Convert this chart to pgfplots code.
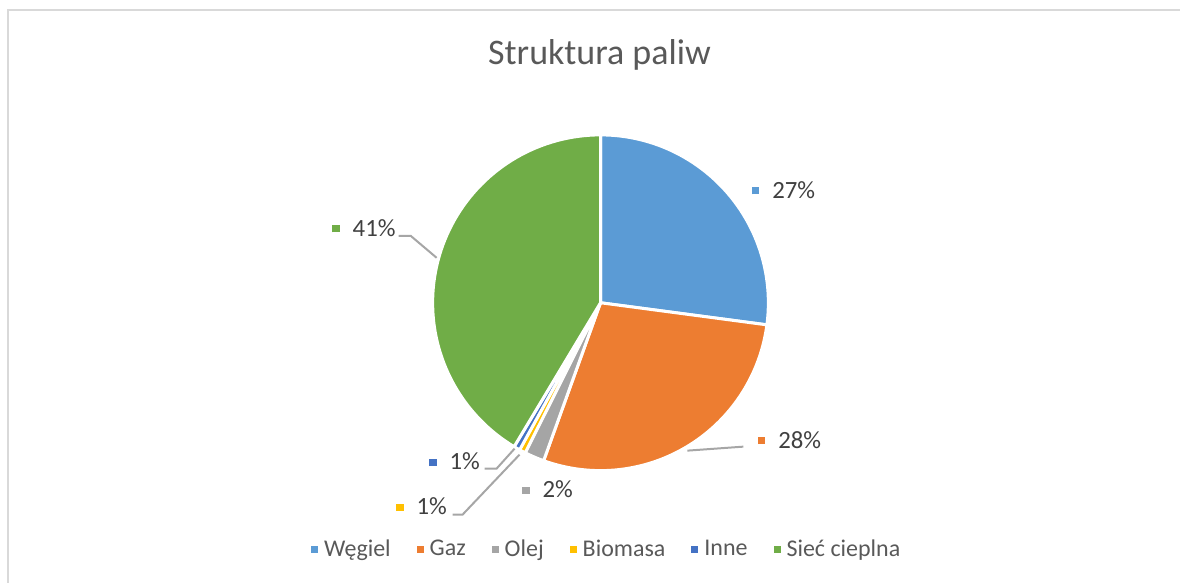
\documentclass[border=0pt]{standalone}
\usepackage{fontspec}
\setmainfont{Carlito}
\usepackage{pgfplots}
\pgfplotsset{compat=1.18}

\definecolor{cWegiel}{HTML}{5B9BD5}
\definecolor{cGaz}{HTML}{ED7D31}
\definecolor{cOlej}{HTML}{A5A5A5}
\definecolor{cBio}{HTML}{FFC000}
\definecolor{cInne}{HTML}{4472C4}
\definecolor{cSiec}{HTML}{70AD47}
\definecolor{txt}{HTML}{595959}
\definecolor{lbl}{HTML}{404040}
\definecolor{lead}{HTML}{A6A6A6}
\definecolor{frame}{HTML}{D9D9D9}

% shares in percent
\def\pWegiel{27.1}
\def\pGaz{28.4}
\def\pOlej{1.9}
\def\pBio{0.6}
\def\pInne{0.6}
\def\pSiec{41.4}

% slice boundaries, clockwise from 12 o'clock
\pgfmathsetmacro{\aA}{90}
\pgfmathsetmacro{\aB}{\aA-3.6*\pWegiel}
\pgfmathsetmacro{\aC}{\aB-3.6*\pGaz}
\pgfmathsetmacro{\aD}{\aC-3.6*\pOlej}
\pgfmathsetmacro{\aE}{\aD-3.6*\pBio}
\pgfmathsetmacro{\aF}{\aE-3.6*\pInne}
\pgfmathsetmacro{\aG}{\aF-3.6*\pSiec}

\pgfplotsset{
  sq legend/.style={legend image code/.code={\fill[##1,draw=none] (0pt,-1.75pt) rectangle (3.5pt,1.75pt);}},
  slice/.style={fill=#1, draw=white, line width=1.5pt, line join=round, samples=80, sq legend},
}
\newcommand{\lab}[2]{\textcolor{#1}{\rule[1.9pt]{3.8pt}{3.8pt}}\hspace{6.5pt}#2}

\begin{document}
\begin{tikzpicture}
\begin{axis}[
  width=590.5pt, height=291.5pt, scale only axis,
  xmin=0, xmax=1181, ymin=0, ymax=583,
  hide axis, clip=false,
  legend style={at={(0.515,0.0566)}, anchor=center, draw=none, fill=none,
    font=\fontsize{12}{14}\selectfont, text=txt, inner sep=0pt,
    /tikz/every even column/.append style={column sep=11pt},
    /tikz/every odd column/.append style={column sep=1pt}},
  legend columns=-1,
]
\path (axis cs:0,0) rectangle (axis cs:1181,583);
\draw[frame, line width=1pt] (axis cs:8.5,0) -- (axis cs:8.5,573) -- (axis cs:1181,573);

\addplot[slice=cWegiel, domain=\aB:\aA] ({601+168*cos(x)},{280+168*sin(x)}) -- (axis cs:601,280) -- cycle;
\addlegendentry{Węgiel}
\addplot[slice=cGaz, domain=\aC:\aB] ({601+168*cos(x)},{280+168*sin(x)}) -- (axis cs:601,280) -- cycle;
\addlegendentry{Gaz}
\addplot[slice=cOlej, domain=\aD:\aC] ({601+168*cos(x)},{280+168*sin(x)}) -- (axis cs:601,280) -- cycle;
\addlegendentry{Olej}
\addplot[slice=cBio, domain=\aE:\aD] ({601+168*cos(x)},{280+168*sin(x)}) -- (axis cs:601,280) -- cycle;
\addlegendentry{Biomasa}
\addplot[slice=cInne, domain=\aF:\aE] ({601+168*cos(x)},{280+168*sin(x)}) -- (axis cs:601,280) -- cycle;
\addlegendentry{Inne}
\addplot[slice=cSiec, domain=\aG:\aF] ({601+168*cos(x)},{280+168*sin(x)}) -- (axis cs:601,280) -- cycle;
\addlegendentry{Sieć cieplna}

% leader lines
\draw[lead, line width=1pt] (axis cs:688,132) -- (axis cs:744,136);
\draw[lead, line width=1pt] (axis cs:485,114) -- (axis cs:497,114) -- (axis cs:515,134);
\draw[lead, line width=1pt] (axis cs:453,68) -- (axis cs:463,68) -- (axis cs:520,128);
\draw[lead, line width=1pt] (axis cs:399,347) -- (axis cs:411,347) -- (axis cs:437,325);

% data labels
\begin{scope}[every node/.style={anchor=west, inner sep=0pt, text=lbl, font=\fontsize{12.4}{14}\selectfont}]
\node at (axis cs:752,393) {\lab{cWegiel}{27\%}};
\node at (axis cs:758,143) {\lab{cGaz}{28\%}};
\node at (axis cs:522,93)  {\lab{cOlej}{2\%}};
\node at (axis cs:396,76)  {\lab{cBio}{1\%}};
\node at (axis cs:429,121) {\lab{cInne}{1\%}};
\node at (axis cs:332,355) {\lab{cSiec}{41\%}};
\end{scope}

\node[text=txt, font=\fontsize{18}{21}\selectfont] at (axis cs:600,528) {Struktura paliw};
\end{axis}
\end{tikzpicture}
\end{document}
